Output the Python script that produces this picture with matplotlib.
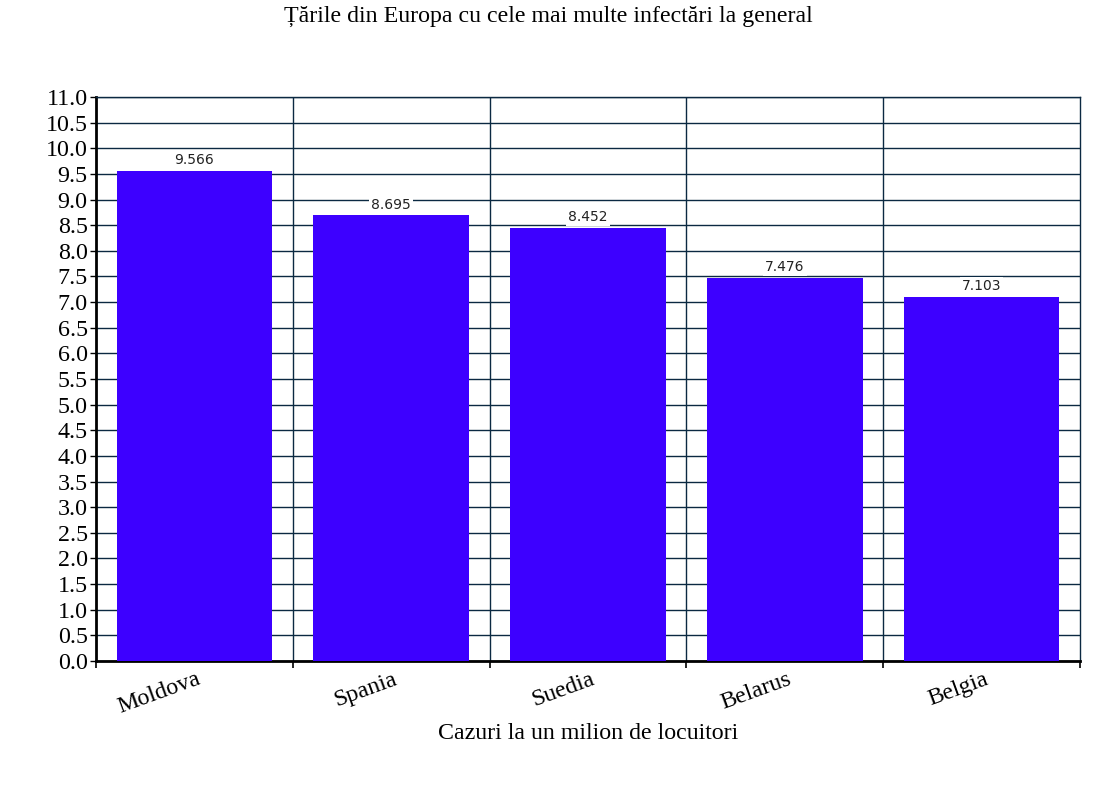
import matplotlib
matplotlib.use("Agg")
import matplotlib.pyplot as plt
import matplotlib.transforms as mtransforms
import numpy as np

countries = ["Moldova", "Spania", "Suedia", "Belarus", "Belgia"]
values = [9.566, 8.695, 8.452, 7.476, 7.103]
value_labels = ["9.566", "8.695", "8.452", "7.476", "7.103"]
title = "Țările din Europa cu cele mai multe infectări la general"
xlabel = "Cazuri la un milion de locuitori"

serif = ["Liberation Serif", "DejaVu Serif"]

fig = plt.figure(figsize=(10.95, 8.05), dpi=100)
ax = fig.add_axes([96/1095, 1-661/805, (1080-96)/1095, (661-97)/805])

x = np.arange(len(countries))
ax.bar(x, values, width=0.79, color="#3D00FF", zorder=3)
ax.set_xlim(-0.5, len(countries)-0.5)
ax.set_ylim(0, 11)
yt = np.arange(0, 11.01, 0.5)
ax.set_yticks(yt)
ax.set_yticklabels([f"{v:.1f}" for v in yt], fontfamily=serif, fontsize=17.3)

bounds = np.arange(0.5, len(countries)-0.5, 1.0)
for b in bounds:
    ax.axvline(b, color="#0B2942", lw=1.0, zorder=1)
ax.yaxis.grid(True, color="#0B2942", lw=1.0, zorder=1)
ax.set_axisbelow(True)

ax.set_xticks(np.concatenate([[-0.5], bounds, [len(countries)-0.5]]))
ax.set_xticklabels([])
ax.tick_params(axis="x", which="major", length=5, direction="out", width=1.2)
ax.tick_params(axis="y", length=4, direction="out", width=1.0, pad=2)

trans = mtransforms.blended_transform_factory(ax.transData, ax.transAxes)
for xi, name in zip(x, countries):
    ax.text(xi + 0.01, -0.013, name, transform=trans, rotation=20,
            rotation_mode="anchor", ha="right", va="top",
            fontfamily=serif, fontsize=17.3)

for s in ["left", "bottom"]:
    ax.spines[s].set_linewidth(2)
    ax.spines[s].set_color("black")
for s in ["top", "right"]:
    ax.spines[s].set_linewidth(1)
    ax.spines[s].set_color("#0B2942")

for xi, v, lab in zip(x, values, value_labels):
    ax.text(xi, v + 0.07, lab, ha="center", va="bottom", fontsize=10,
            family=["DejaVu Sans"], color="#222222", zorder=5,
            bbox=dict(facecolor="white", edgecolor="none", pad=1.5))

fig.text(548/1095, 1-16/805, title, ha="center", va="center", fontfamily=serif, fontsize=17.2)
fig.text(588/1095, 1-733/805, xlabel, ha="center", va="center", fontfamily=serif, fontsize=17.2)

fig.savefig("out.png", dpi=100)
